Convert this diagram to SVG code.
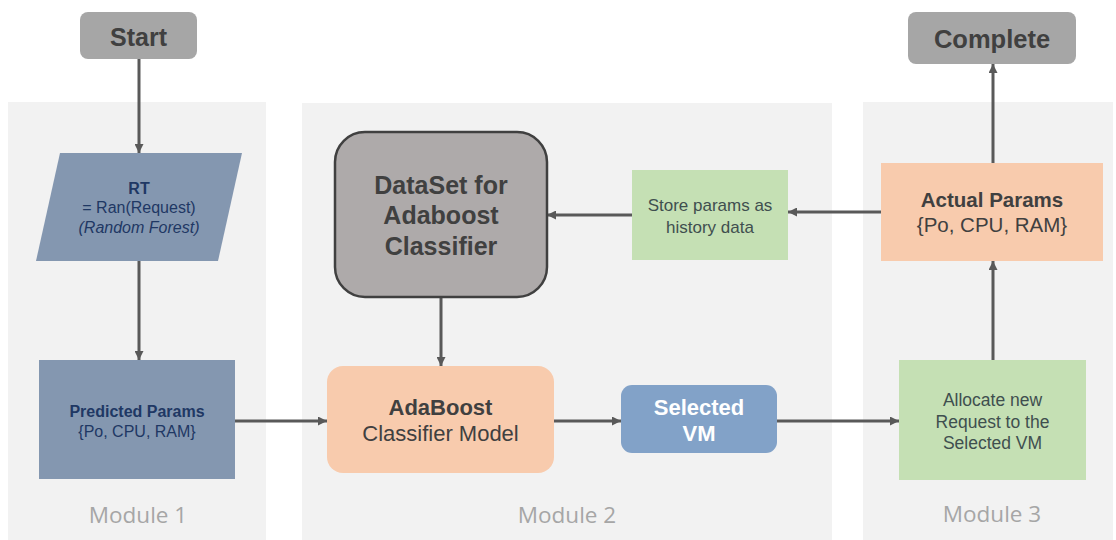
<svg xmlns="http://www.w3.org/2000/svg" width="1116" height="540" viewBox="0 0 1116 540">
  <defs>
    <marker id="arrow" viewBox="0 0 10 10" refX="10" refY="5" markerWidth="9" markerHeight="9" markerUnits="userSpaceOnUse" orient="auto">
      <path d="M0,0 L10,5 L0,10 z" fill="#595959"/>
    </marker>
    <style>
      .panel { fill: #f2f2f2; }
      .module { font-family: "Open Sans", "Liberation Sans", sans-serif; font-size: 22.5px; fill: #a6a6a6; text-anchor: middle; }
      .t { font-family: "Liberation Sans", Arial, sans-serif; text-anchor: middle; }
      .b { font-weight: bold; }
      .term { fill: #a6a6a6; }
      .navy { fill: #1f3864; }
      .dark { fill: #404040; }
      .slate { fill: #3f4f4f; }
      .conn line { stroke: #595959; stroke-width: 3; fill: none; marker-end: url(#arrow); }
    </style>
  </defs>

  <rect width="1116" height="540" fill="#ffffff"/>

  <!-- module panels -->
  <g id="panels">
    <rect class="panel" x="8" y="102" width="258" height="438"/>
    <rect class="panel" x="302" y="103" width="530" height="437"/>
    <rect class="panel" x="863" y="102" width="250" height="438"/>
    <text class="module" x="138" y="523">Module 1</text>
    <text class="module" x="567" y="523">Module 2</text>
    <text class="module" x="992" y="522">Module 3</text>
  </g>

  <!-- connectors -->
  <g id="connectors" class="conn">
    <line x1="139" y1="59" x2="139" y2="153"/>
    <line x1="139" y1="261" x2="139" y2="360"/>
    <line x1="235" y1="421" x2="327" y2="421"/>
    <line x1="441" y1="297" x2="441" y2="366"/>
    <line x1="554" y1="421" x2="621" y2="421"/>
    <line x1="777" y1="421" x2="899" y2="421"/>
    <line x1="993" y1="360" x2="993" y2="261"/>
    <line x1="993" y1="163" x2="993" y2="64"/>
    <line x1="881" y1="212" x2="788" y2="212"/>
    <line x1="632" y1="215" x2="547" y2="215"/>
  </g>

  <g id="start">
    <rect class="term" x="80" y="12" width="117" height="47" rx="8"/>
    <text class="t b dark" x="138.5" y="46" font-size="25">Start</text>
  </g>

  <g id="rt">
    <polygon points="60,153 242,153 218,261 36,261" fill="#8497b0"/>
    <text class="t b navy" x="139" y="194" font-size="16">RT</text>
    <text class="t navy" x="139" y="213" font-size="16">= Ran(Request)</text>
    <text class="t navy" x="139" y="233" font-size="16" font-style="italic">(Random Forest)</text>
  </g>

  <g id="predicted">
    <rect x="39" y="360" width="196" height="119" fill="#8497b0"/>
    <text class="t b navy" x="137" y="417" font-size="16">Predicted Params</text>
    <text class="t navy" x="137" y="437" font-size="16">{Po, CPU, RAM}</text>
  </g>

  <g id="dataset">
    <rect x="335" y="132" width="212" height="165" rx="30" fill="#aeaaaa" stroke="#404040" stroke-width="2.5"/>
    <text class="t b dark" x="441" y="194" font-size="25">DataSet for</text>
    <text class="t b dark" x="441" y="224" font-size="25">Adaboost</text>
    <text class="t b dark" x="441" y="255" font-size="25">Classifier</text>
  </g>

  <g id="store">
    <rect x="632" y="170" width="156" height="90" fill="#c5e0b4"/>
    <text class="t slate" x="710" y="211" font-size="17">Store params as</text>
    <text class="t slate" x="710" y="233" font-size="17">history data</text>
  </g>

  <g id="adaboost">
    <rect x="327" y="366" width="227" height="107" rx="16" fill="#f8cbad"/>
    <text class="t b dark" x="440.5" y="415" font-size="22">AdaBoost</text>
    <text class="t dark" x="440.5" y="441" font-size="22">Classifier Model</text>
  </g>

  <g id="selected-vm">
    <rect x="621" y="385" width="156" height="68" rx="11" fill="#82a2c8"/>
    <text class="t b" x="699" y="415" font-size="22" fill="#ffffff">Selected</text>
    <text class="t b" x="699" y="441" font-size="22" fill="#ffffff">VM</text>
  </g>

  <g id="allocate">
    <rect x="899" y="360" width="187" height="120" fill="#c5e0b4"/>
    <text class="t slate" x="992.5" y="406" font-size="17.5">Allocate new</text>
    <text class="t slate" x="992.5" y="428" font-size="17.5">Request to the</text>
    <text class="t slate" x="992.5" y="449" font-size="17.5">Selected VM</text>
  </g>

  <g id="actual">
    <rect x="881" y="163" width="222" height="98" fill="#f8cbad"/>
    <text class="t b dark" x="992" y="207" font-size="20.5">Actual Params</text>
    <text class="t dark" x="992" y="232" font-size="20.5">{Po, CPU, RAM}</text>
  </g>

  <g id="complete">
    <rect class="term" x="908" y="12" width="168" height="52" rx="8"/>
    <text class="t b dark" x="992" y="48" font-size="25.5">Complete</text>
  </g>
</svg>
